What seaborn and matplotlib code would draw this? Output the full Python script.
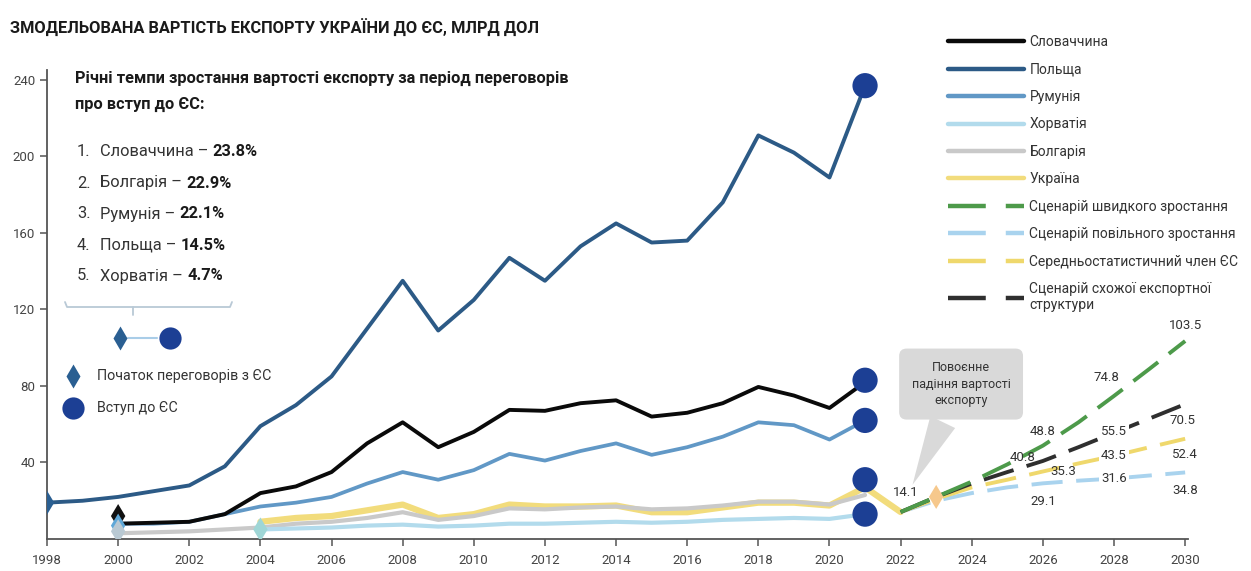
import numpy as np
import pandas as pd
import matplotlib
matplotlib.use("Agg")
import matplotlib.pyplot as plt
from matplotlib.lines import Line2D
from matplotlib import font_manager
import seaborn as sns

# ---------------- data ----------------
years_poland = list(range(1998, 2022))
poland = [19, 20, 22, 25, 28, 38, 59, 70, 85, 110, 135, 109, 125, 147, 135, 153,
          165, 155, 156, 176, 211, 202, 189, 237]
years_2000 = list(range(2000, 2022))
slovakia = [8, 8.5, 9, 13, 24, 27.5, 35, 50, 61, 48, 56, 67.5, 67, 71, 72.5, 64,
            66, 71, 79.5, 75, 68.5, 82]
romania = [8, 8, 9, 13, 17, 19, 22, 29, 35, 31, 36, 44.5, 41, 46, 50, 44, 48,
           53.5, 61, 59.5, 52, 62]
bulgaria = [3, 3.5, 4, 5, 6, 8, 9, 11, 14, 10, 12, 16, 15.5, 16.5, 17, 15.5, 16,
            17.5, 19.5, 19.5, 18, 23]
years_croatia = list(range(2004, 2022))
croatia = [5, 5.5, 6, 7, 7.5, 6.5, 7, 8, 8, 8.5, 9, 8.5, 9, 10, 10.5, 11, 10.5, 13]
years_ukraine = list(range(2004, 2023))
ukraine = [9, 11, 12, 15, 18, 11, 13, 18, 17, 17, 17.5, 14, 14, 16.5, 19, 19,
           17.5, 27, 14.1]

years_scen = list(range(2022, 2031))
scen_fast = [14.1, 22, 30, 39, 48.8, 61, 74.8, 89, 103.5]
scen_slow = [14.1, 20, 24, 27, 29.1, 30.5, 31.6, 33.2, 34.8]
scen_avg = [14.1, 21, 27, 31, 35.3, 39.5, 43.5, 48, 52.4]
scen_similar = [14.1, 22, 29, 35, 40.8, 48, 55.5, 63, 70.5]

# negotiation start markers (country, year, value)
neg_country = ["Польща", "Словаччина", "Румунія", "Болгарія", "Хорватія", "Україна"]
neg_year = [1998, 2000, 2000, 2000, 2004, 2023]
neg_value = [19, 12, 7, 4, 5, 22]
# accession markers
acc_year = [2021, 2021, 2021, 2021, 2021]
acc_value = [237, 83, 62, 31, 13]

x_ticks = list(range(1998, 2031, 2))
y_ticks = [40, 80, 120, 160, 200, 240]

ranking_names = ["Словаччина", "Болгарія", "Румунія", "Польща", "Хорватія"]
ranking_pcts = ["23.8%", "22.9%", "22.1%", "14.5%", "4.7%"]

# ---------------- style ----------------
sns.set_theme(style="ticks")
avail = {f.name for f in font_manager.fontManager.ttflist}
FAM = "Liberation Sans Narrow" if "Liberation Sans Narrow" in avail else "Roboto"
plt.rcParams["font.family"] = [FAM, "DejaVu Sans"]
TXT = "#333333"

W, H = 1251, 571
fig = plt.figure(figsize=(W / 100, H / 100), dpi=100)
ax = fig.add_axes([47 / W, 1 - 539 / H, (1188 - 47) / W, (539 - 70) / H])
ax.set_xlim(1998, 2030.08)
ax.set_ylim(0, 245.2)

colors = {
    "Словаччина": "#0a0a0a",
    "Польща": "#2c5a86",
    "Румунія": "#6198c6",
    "Хорватія": "#b2dbec",
    "Болгарія": "#c9c9c9",
    "Україна": "#f2dc7c",
}

hist = [
    ("Україна", years_ukraine, ukraine, 4.5),
    ("Болгарія", years_2000, bulgaria, 3),
    ("Хорватія", years_croatia, croatia, 3),
    ("Румунія", years_2000, romania, 2.7),
    ("Словаччина", years_2000, slovakia, 2.8),
    ("Польща", years_poland, poland, 2.8),
]
for name, xs, ys, lw in hist:
    df = pd.DataFrame({"year": xs, "value": ys})
    sns.lineplot(data=df, x="year", y="value", ax=ax, color=colors[name], lw=lw,
                 legend=False, solid_capstyle="round")

scen_colors = {
    "Сценарій швидкого зростання": "#4d9a4a",
    "Сценарій повільного зростання": "#a9d3ee",
    "Середньостатистичний член ЄС": "#efd86c",
    "Сценарій схожої експортної\nструктури": "#2f2f2f",
}
scen_data = [
    ("Сценарій повільного зростання", scen_slow),
    ("Середньостатистичний член ЄС", scen_avg),
    ("Сценарій схожої експортної\nструктури", scen_similar),
    ("Сценарій швидкого зростання", scen_fast),
]
DASH = (8, 3.5)
for name, ys in scen_data:
    df = pd.DataFrame({"year": years_scen, "value": ys})
    sns.lineplot(data=df, x="year", y="value", ax=ax, color=scen_colors[name],
                 lw=2.8, legend=False)
    ax.lines[-1].set_dashes(DASH)

# negotiation diamonds
neg_colors = ["#2a5f92", "#111111", "#5fa8d8", "#b9c9d3", "#9fd6d6", "#f6c88c"]
for c, xv, yv in zip(neg_colors, neg_year, neg_value):
    sns.scatterplot(x=[xv], y=[yv], ax=ax, marker="d", s=150, color=c,
                    edgecolor="none", zorder=6, legend=False)
# accession circles
sns.scatterplot(x=acc_year, y=acc_value, ax=ax, marker="o", s=330,
                color="#1c3f94", edgecolor="none", zorder=7, legend=False)

# axes styling
ax.set_xticks(x_ticks)
ax.set_yticks(y_ticks)
ax.set_xlabel("")
ax.set_ylabel("")
for s in ["top", "right"]:
    ax.spines[s].set_visible(False)
for s in ["left", "bottom"]:
    ax.spines[s].set_color("#555555")
    ax.spines[s].set_linewidth(1.3)
ax.tick_params(axis="both", length=5, width=1.1, color="#555555",
               labelsize=9.5, labelcolor="#444444")
ax.tick_params(axis="x", pad=6)

# scenario value labels (year, value, dx px, dy px)
labels = [
    (2022, 14.1, 5, 20),
    (2026, 48.8, 0, 14), (2026, 40.8, -20, 3), (2026, 35.3, 20, 0), (2026, 29.1, 0, -18),
    (2028, 74.8, -8, 18), (2028, 55.5, 0, 1), (2028, 43.5, 0, 0), (2028, 31.6, 0, 0),
    (2030, 103.5, 0, 16), (2030, 70.5, -3, -16), (2030, 52.4, 0, -16), (2030, 34.8, 0, -18),
]
for xv, yv, dx, dy in labels:
    on_line = (xv == 2028 and yv != 74.8)
    ax.annotate(f"{yv}", xy=(xv, yv), xytext=(dx * 0.72, dy * 0.72),
                textcoords="offset points", ha="center", va="center",
                fontsize=9.5, color=TXT, zorder=8,
                bbox=dict(boxstyle="square,pad=0.15", fc="white", ec="none") if on_line else None)

# callout
ax.annotate("Повоєнне\nпадіння вартості\nекспорту", xy=(2022.3, 27), xytext=(2023.7, 81),
            ha="center", va="center", fontsize=9, color=TXT, linespacing=1.35,
            bbox=dict(boxstyle="round,pad=1.0,rounding_size=0.6", fc="#d9d9d9", ec="none"),
            arrowprops=dict(arrowstyle="wedge,tail_width=2.2,shrink_factor=0.5",
                            fc="#d9d9d9", ec="none"), zorder=5)

# legend
handles = [Line2D([], [], color=colors[n], lw=3.2) for n in
           ["Словаччина", "Польща", "Румунія", "Хорватія", "Болгарія", "Україна"]]
leg_labels = ["Словаччина", "Польща", "Румунія", "Хорватія", "Болгарія", "Україна"]
for n in ["Сценарій швидкого зростання", "Сценарій повільного зростання",
          "Середньостатистичний член ЄС", "Сценарій схожої експортної\nструктури"]:
    h = Line2D([], [], color=scen_colors[n], lw=3.2)
    h.set_dashes((8.5, 4.5))
    handles.append(h)
    leg_labels.append(n)
leg = fig.legend(handles, leg_labels, loc="upper left",
                 bbox_to_anchor=(948 / W, 1 - 35 / H), frameon=False,
                 fontsize=10, handlelength=5.5, handletextpad=0.36,
                 labelspacing=0.97, borderaxespad=0, borderpad=0)
for t in leg.get_texts():
    t.set_color(TXT)

# ---------------- overlay texts ----------------
ov = fig.add_axes([0, 0, 1, 1], facecolor="none")
ov.set_xlim(0, W)
ov.set_ylim(H, 0)
ov.axis("off")

ov.text(10, 28, "ЗМОДЕЛЬОВАНА ВАРТІСТЬ ЕКСПОРТУ УКРАЇНИ ДО ЄС, МЛРД ДОЛ",
        fontsize=11.8, fontweight="bold", color="#1a1a1a", va="center", ha="left")
ov.text(75, 78, "Річні темпи зростання вартості експорту за період переговорів",
        fontsize=11.8, fontweight="bold", color="#1a1a1a", va="center")
ov.text(75, 104, "про вступ до ЄС:", fontsize=11.8, fontweight="bold",
        color="#1a1a1a", va="center")
ys_list = [152, 183, 214, 245, 276]
for i, (nm, pc, yy) in enumerate(zip(ranking_names, ranking_pcts, ys_list)):
    ov.text(77, yy, f"{i + 1}.", fontsize=11.8, color=TXT, va="center")
    t = ov.text(100, yy, f"{nm} – ", fontsize=11.8, color=TXT, va="center")
    ov.annotate(pc, xy=(1, 0.5), xycoords=t, va="center", ha="left",
                fontsize=11.8, fontweight="bold", color="#1a1a1a")

# bracket
br = "#b9c9d6"
ov.plot([65, 67, 230, 232], [302, 307, 307, 302], color=br, lw=1.3)
ov.plot([133, 133], [307, 315], color=br, lw=1.3)
ov.plot([128, 157], [338, 338], color="#a9cde8", lw=1.5)
ov.plot([120], [338], marker="d", ms=12, color="#2a5f92", mec="none")
ov.plot([170], [338], marker="o", ms=16, color="#1c3f94", mec="none")
ov.plot([73], [376], marker="d", ms=12, color="#2a5f92", mec="none")
ov.plot([73], [408], marker="o", ms=16, color="#1c3f94", mec="none")
ov.text(97, 376, "Початок переговорів з ЄС", fontsize=10.3, color=TXT, va="center")
ov.text(97, 408, "Вступ до ЄС", fontsize=10.3, color=TXT, va="center")

fig.savefig("out.png", dpi=100)
